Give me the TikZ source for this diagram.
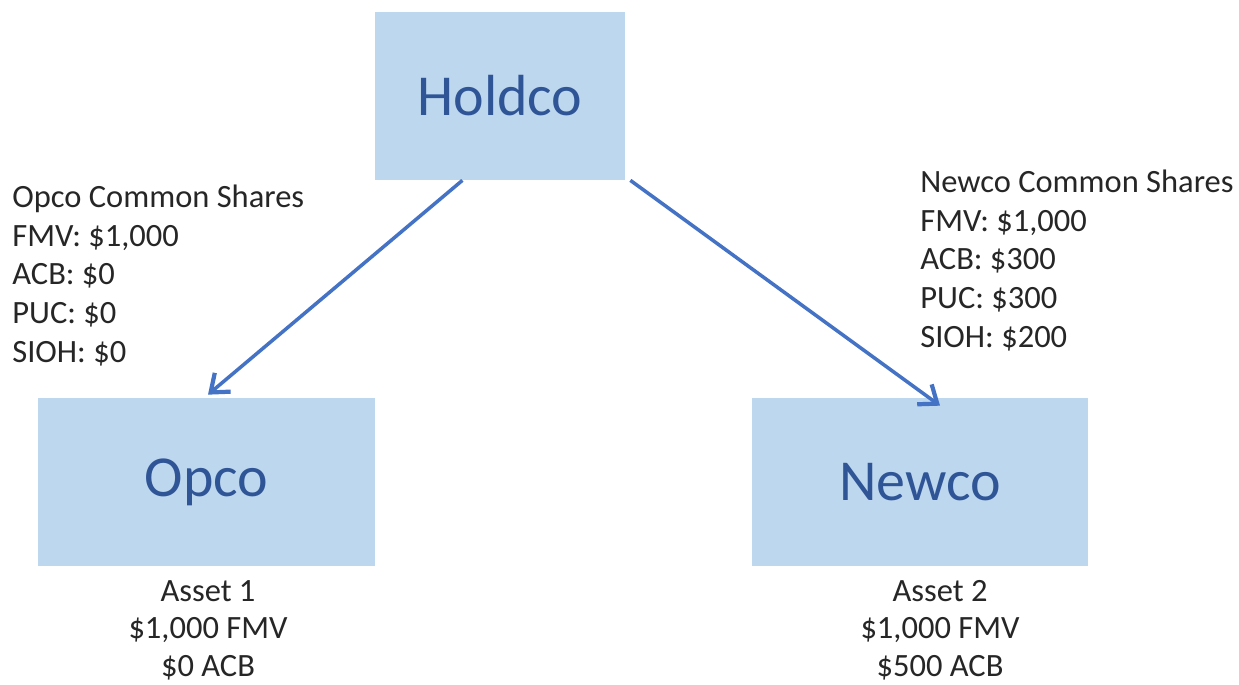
\documentclass[tikz,border=0pt]{standalone}
\usepackage{fontspec}
\setmainfont{Carlito}
\usetikzlibrary{arrows.meta,calc}
\definecolor{boxfill}{HTML}{BDD7EE}
\definecolor{boxtext}{HTML}{2F5597}
\definecolor{linkblue}{HTML}{4472C4}

\begin{document}
\begin{tikzpicture}[%
    x=0.02cm, y=-0.02cm,        % one unit is one pixel of the reference
    >={Straight Barb[length=9pt,width=14pt,line width=2.4pt]},
    ]
% -------------------------------------------------
% Box and label styles
\tikzset{
  company/.style={fill=boxfill, text=boxtext, inner sep=0pt,
    minimum height=168*0.02cm, font=\fontsize{33}{38}\selectfont},
  info/.style={align=left, inner sep=0pt, text=black!85,
    font=\fontsize{18.5}{22}\selectfont},
  asset/.style={align=center, inner sep=0pt, text=black!85,
    font=\fontsize{18.5}{21.3}\selectfont},
  % Connector line style
  link/.style={->, draw=linkblue, line width=2pt},
}
\useasboundingbox (0,0) rectangle (1239,684);
% -------------------------------------------------
% The companies
\node [company, minimum width=250*0.02cm] (holdco) at (500,96) {Holdco};
\node [company, minimum width=337*0.02cm] (opco) at (206.5,482) {Opco};
\node [company, minimum width=336*0.02cm] (newco) at (920,482) {Newco};
% End points of the share links
\coordinate (hl) at ($(holdco.south west)!0.35!(holdco.south east)$);
\coordinate (hr) at ([xshift=5*0.02cm]holdco.south east);
\coordinate (ot) at ([xshift=1.5*0.02cm,yshift=3*0.02cm]opco.north);
\coordinate (nt) at ([xshift=20*0.02cm,yshift=-8*0.02cm]newco.north);
\draw [link] (hl) -- (ot);
\draw [link] (hr) -- (nt);
% -------------------------------------------------
% Share details (base is the last line's baseline)
\node [info, anchor=base west] (opcoshares) at (12,362)
  {Opco Common Shares\\FMV: \$1,000\\ACB: \$0\\PUC: \$0\\SIOH: \$0};
\node [info, anchor=base west] (newcoshares) at (920,347)
  {Newco Common Shares\\FMV: \$1,000\\ACB: \$300\\PUC: \$300\\SIOH: \$200};
% Assets held
\node [asset, anchor=base] (asset1) at (208,676)
  {Asset 1\\\$1,000 FMV\\\$0 ACB};
\node [asset, anchor=base] (asset2) at (940,676)
  {Asset 2\\\$1,000 FMV\\\$500 ACB};
% -------------------------------------------------
\end{tikzpicture}
\end{document}
